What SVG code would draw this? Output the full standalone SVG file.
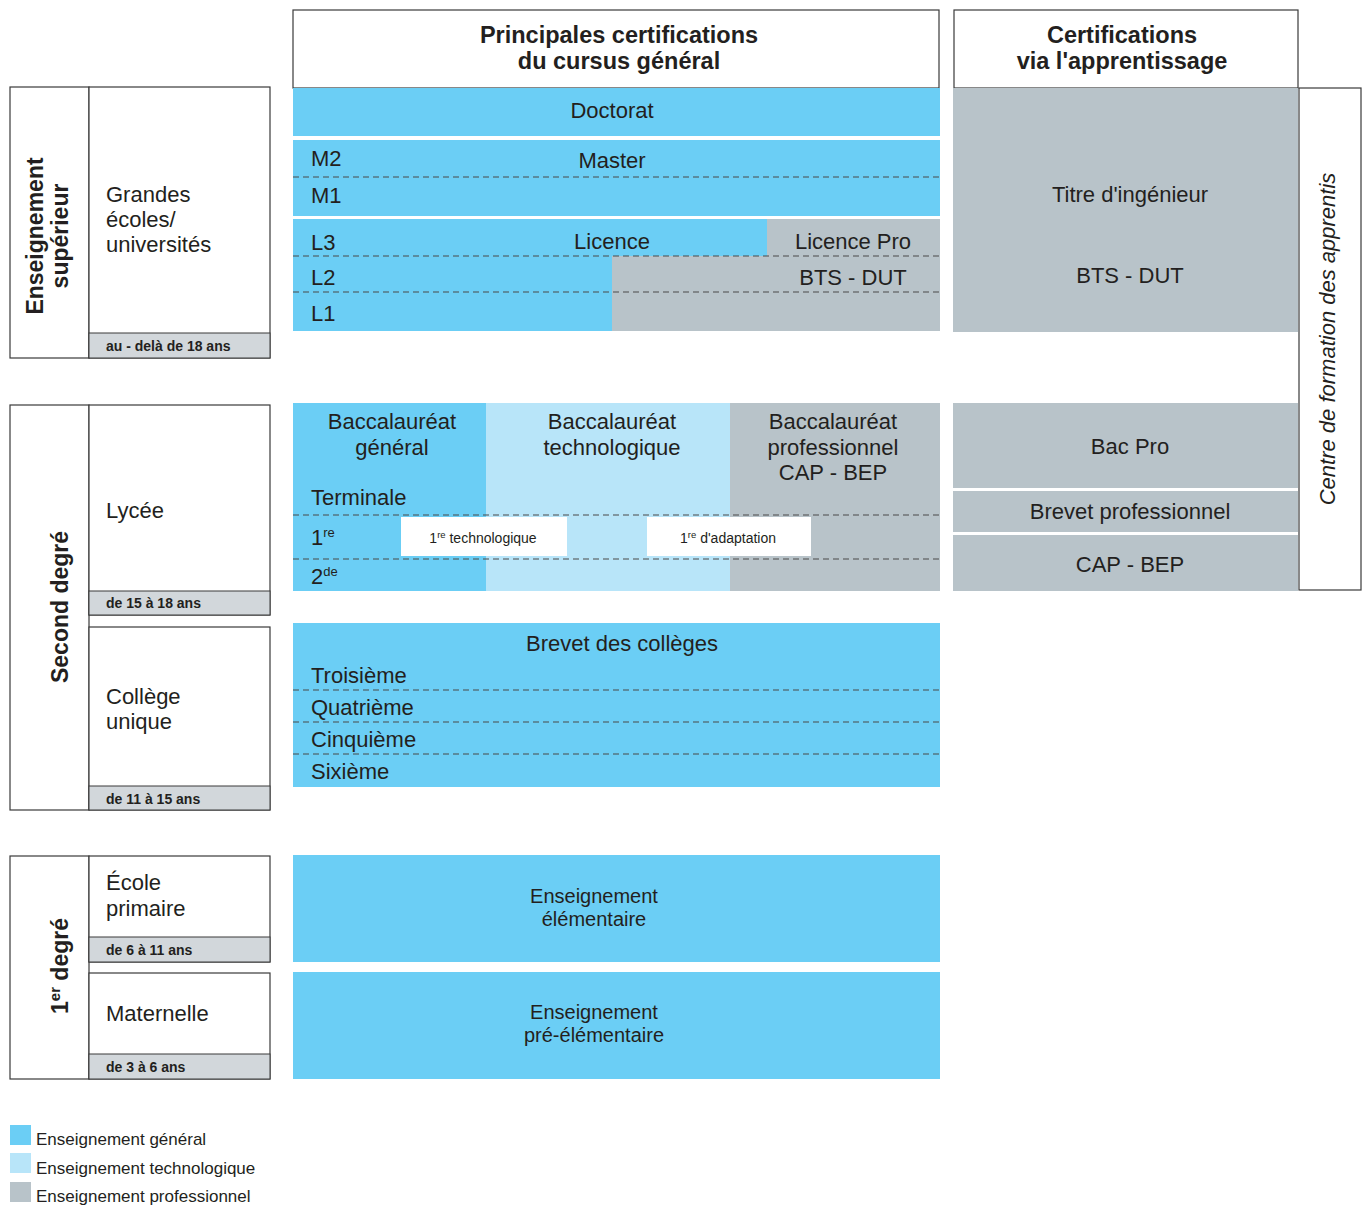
<svg xmlns="http://www.w3.org/2000/svg" width="1367" height="1206" viewBox="0 0 1367 1206">
<style>
text{font-family:"Liberation Sans",Arial,sans-serif;fill:#231F20}
.t{font-size:22px}
.t2{font-size:20px;text-anchor:middle}
.c{text-anchor:middle}
.b{font-weight:bold}
.h{font-size:23.5px;font-weight:bold;text-anchor:middle}
.sm{font-size:14px;font-weight:bold}
.xs{font-size:14px;text-anchor:middle}
.lg{font-size:17px}
.gen{fill:#6BCEF5}
.tec{fill:#B8E5F9}
.pro{fill:#B8C3C9}
.age{fill:#D2D7DB;stroke:#3a3a3a;stroke-width:1}
.box{fill:#fff;stroke:#3a3a3a;stroke-width:1.2}
.dash{stroke:#4a4a4a;stroke-width:1.2;stroke-dasharray:6 4;fill:none}
.rot{font-size:23px;font-weight:bold;text-anchor:middle}
</style>

<!-- Column headers -->
<g id="header-general">
<rect class="box" x="293" y="10" width="646" height="78"/>
<text class="h" x="619" y="43">Principales certifications</text>
<text class="h" x="619" y="69">du cursus général</text>
</g>
<g id="header-apprentissage">
<rect class="box" x="954" y="10" width="344" height="78"/>
<text class="h" x="1122" y="43">Certifications</text>
<text class="h" x="1122" y="69">via l'apprentissage</text>
</g>

<!-- Left: Enseignement supérieur -->
<g id="level-superieur">
<rect class="box" x="10" y="87" width="79" height="271"/>
<rect class="box" x="89" y="87" width="181" height="271"/>
<rect class="age" x="89" y="333" width="181" height="25"/>
<text class="rot" transform="translate(43,236) rotate(-90)">Enseignement</text>
<text class="rot" transform="translate(68,236) rotate(-90)">supérieur</text>
<text class="t" x="106" y="202">Grandes</text>
<text class="t" x="106" y="227">écoles/</text>
<text class="t" x="106" y="252">universités</text>
<text class="sm" x="106" y="351">au - delà de 18 ans</text>
</g>

<!-- Left: Second degré -->
<g id="level-second">
<rect class="box" x="10" y="405" width="79" height="405"/>
<text class="rot" transform="translate(68,607) rotate(-90)">Second degré</text>
</g>
<g id="lycee">
<rect class="box" x="89" y="405" width="181" height="210"/>
<rect class="age" x="89" y="591" width="181" height="24"/>
<text class="t" x="106" y="518">Lycée</text>
<text class="sm" x="106" y="608">de 15 à 18 ans</text>
</g>
<g id="college">
<rect class="box" x="89" y="627" width="181" height="183"/>
<rect class="age" x="89" y="786" width="181" height="24"/>
<text class="t" x="106" y="704">Collège</text>
<text class="t" x="106" y="729">unique</text>
<text class="sm" x="106" y="804">de 11 à 15 ans</text>
</g>

<!-- Left: 1er degré -->
<g id="level-premier">
<rect class="box" x="10" y="856" width="79" height="223"/>
<text class="rot" transform="translate(68,966) rotate(-90)">1<tspan font-size="15" dy="-8">er</tspan><tspan dy="8"> degré</tspan></text>
</g>
<g id="ecole-primaire">
<rect class="box" x="89" y="856" width="181" height="106"/>
<rect class="age" x="89" y="937" width="181" height="25"/>
<text class="t" x="106" y="890">École</text>
<text class="t" x="106" y="916">primaire</text>
<text class="sm" x="106" y="955">de 6 à 11 ans</text>
</g>
<g id="maternelle">
<rect class="box" x="89" y="973" width="181" height="106"/>
<rect class="age" x="89" y="1054" width="181" height="25"/>
<text class="t" x="106" y="1021">Maternelle</text>
<text class="sm" x="106" y="1072">de 3 à 6 ans</text>
</g>

<!-- Higher education general column -->
<g id="doctorat">
<rect class="gen" x="293" y="88" width="647" height="48"/>
<text class="t c" x="612" y="118">Doctorat</text>
</g>
<g id="master">
<rect class="gen" x="293" y="140" width="647" height="76"/>
<text class="t" x="311" y="166">M2</text>
<text class="t c" x="612" y="168">Master</text>
<text class="t" x="311" y="203">M1</text>
</g>
<g id="licence">
<rect class="gen" x="293" y="219" width="647" height="112"/>
<rect class="pro" x="767" y="219" width="173" height="37"/>
<rect class="pro" x="612" y="256" width="328" height="75"/>
<text class="t" x="311" y="250">L3</text>
<text class="t c" x="612" y="249">Licence</text>
<text class="t c" x="853" y="249">Licence Pro</text>
<text class="t" x="311" y="285">L2</text>
<text class="t c" x="853" y="285">BTS - DUT</text>
<text class="t" x="311" y="321">L1</text>
</g>

<!-- Apprentissage higher -->
<g id="apprentissage-sup">
<rect class="pro" x="953" y="88" width="345" height="244"/>
<text class="t c" x="1130" y="202">Titre d'ingénieur</text>
<text class="t c" x="1130" y="283">BTS - DUT</text>
</g>

<!-- CFA -->
<g id="cfa">
<rect class="box" x="1299" y="88" width="62" height="502"/>
<text class="t c" font-style="italic" font-size="22.5" transform="translate(1335,339) rotate(-90)">Centre de formation des apprentis</text>
</g>

<!-- Lycée certifications -->
<g id="baccalaureats">
<rect class="gen" x="293" y="403" width="193" height="188"/>
<rect class="tec" x="486" y="403" width="244" height="188"/>
<rect class="pro" x="730" y="403" width="210" height="188"/>
<text class="t c" x="392" y="429">Baccalauréat</text>
<text class="t c" x="392" y="455">général</text>
<text class="t c" x="612" y="429">Baccalauréat</text>
<text class="t c" x="612" y="455">technologique</text>
<text class="t c" x="833" y="429">Baccalauréat</text>
<text class="t c" x="833" y="455">professionnel</text>
<text class="t c" x="833" y="480">CAP - BEP</text>
<text class="t" x="311" y="505">Terminale</text>
<text class="t" x="311" y="545">1<tspan font-size="13" dy="-8">re</tspan></text>
<text class="t" x="311" y="584">2<tspan font-size="13" dy="-8">de</tspan></text>
</g>
<g id="premiere-technologique">
<rect x="401" y="517" width="166" height="39" fill="#fff"/>
<text class="xs" x="483" y="543">1<tspan font-size="9.5" dy="-5">re</tspan><tspan dy="5"> technologique</tspan></text>
</g>
<g id="premiere-adaptation">
<rect x="647" y="517" width="164" height="39" fill="#fff"/>
<text class="xs" x="728" y="543">1<tspan font-size="9.5" dy="-5">re</tspan><tspan dy="5"> d'adaptation</tspan></text>
</g>

<!-- Apprentissage secondary -->
<g id="bac-pro">
<rect class="pro" x="953" y="403" width="345" height="85"/>
<text class="t c" x="1130" y="454">Bac Pro</text>
</g>
<g id="brevet-professionnel">
<rect class="pro" x="953" y="491" width="345" height="41"/>
<text class="t c" x="1130" y="519">Brevet professionnel</text>
</g>
<g id="cap-bep">
<rect class="pro" x="953" y="535" width="345" height="56"/>
<text class="t c" x="1130" y="572">CAP - BEP</text>
</g>

<!-- Collège -->
<g id="brevet-colleges">
<rect class="gen" x="293" y="623" width="647" height="164"/>
<text class="t c" x="622" y="651">Brevet des collèges</text>
<text class="t" x="311" y="683">Troisième</text>
<text class="t" x="311" y="715">Quatrième</text>
<text class="t" x="311" y="747">Cinquième</text>
<text class="t" x="311" y="779">Sixième</text>
</g>

<!-- Primaire -->
<g id="elementaire">
<rect class="gen" x="293" y="855" width="647" height="107"/>
<text class="t2" x="594" y="903">Enseignement</text>
<text class="t2" x="594" y="926">élémentaire</text>
</g>
<g id="pre-elementaire">
<rect class="gen" x="293" y="972" width="647" height="107"/>
<text class="t2" x="594" y="1019">Enseignement</text>
<text class="t2" x="594" y="1042">pré-élémentaire</text>
</g>

<!-- Dashed separators -->
<g id="connectors">
<line class="dash" x1="293" y1="177" x2="940" y2="177"/>
<line class="dash" x1="293" y1="256" x2="940" y2="256"/>
<line class="dash" x1="293" y1="292" x2="940" y2="292"/>
<line class="dash" x1="293" y1="515" x2="940" y2="515"/>
<line class="dash" x1="293" y1="559" x2="940" y2="559"/>
<line class="dash" x1="293" y1="690" x2="940" y2="690"/>
<line class="dash" x1="293" y1="722" x2="940" y2="722"/>
<line class="dash" x1="293" y1="754" x2="940" y2="754"/>
</g>

<!-- Legend -->
<g id="legend">
<rect class="gen" x="10" y="1125" width="21" height="20"/>
<text class="lg" x="36" y="1145">Enseignement général</text>
<rect class="tec" x="10" y="1153" width="21" height="20"/>
<text class="lg" x="36" y="1174">Enseignement technologique</text>
<rect class="pro" x="10" y="1182" width="21" height="20"/>
<text class="lg" x="36" y="1202">Enseignement professionnel</text>
</g>
</svg>
